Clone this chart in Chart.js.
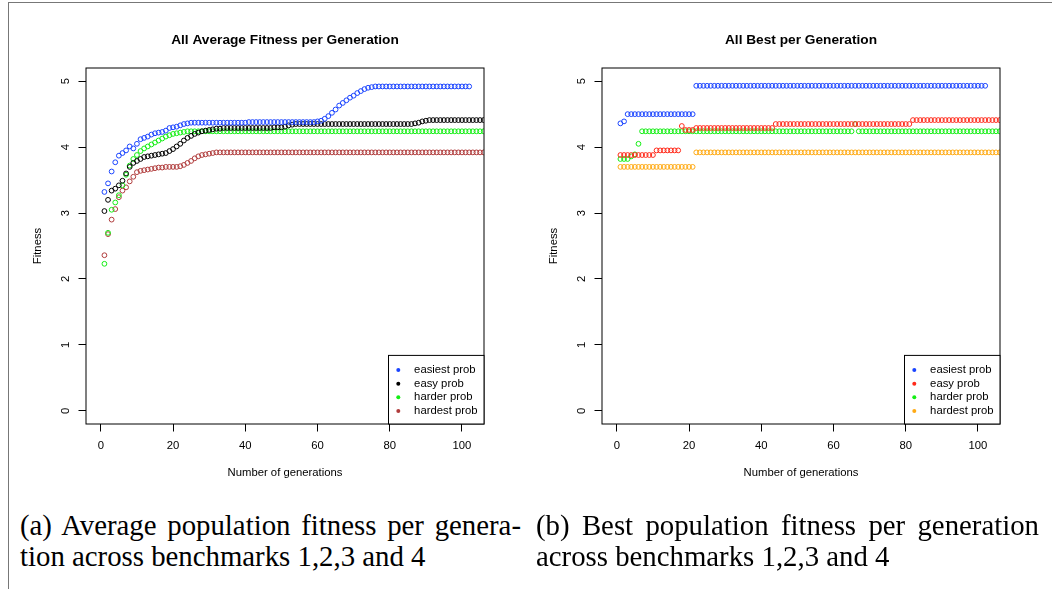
<!DOCTYPE html>
<html>
<head>
<meta charset="utf-8">
<script src="https://cdn.jsdelivr.net/npm/chart.js@4.4.1/dist/chart.umd.min.js"></script>
<style>
  body { margin: 0; width: 1052px; height: 589px; overflow: hidden; position: relative; background: #fff; }
  .box { position: absolute; top: 0; width: 570px; height: 500px; }
  .frame-top { position: absolute; left: 8px; top: 2px; width: 1044px; height: 1px; background: #777; }
  .frame-left { position: absolute; left: 8px; top: 2px; width: 1px; height: 587px; background: #777; }
  .cap { position: absolute; top: 510px; font: 28.8px/30.7px "Liberation Serif", "Times New Roman", serif; color: #000; }
  .cap .j { text-align: justify; text-align-last: justify; }
</style>
</head>
<body>
<div class="frame-top"></div>
<div class="frame-left"></div>
<div class="box" style="left:0px"><canvas id="chart_avg" width="570" height="500"></canvas></div>
<div class="box" style="left:516px"><canvas id="chart_best" width="570" height="500"></canvas></div>
<div class="cap" style="left:20px; width:501px">
  <div class="j">(a) Average population fitness per genera-</div>
  <div>tion across benchmarks 1,2,3 and 4</div>
</div>
<div class="cap" style="left:536px; width:503px">
  <div class="j">(b) Best population fitness per generation</div>
  <div>across benchmarks 1,2,3 and 4</div>
</div>
<script>
// Tick labels
const xTicks = [0, 20, 40, 60, 80, 100];
const yTicks = [0, 1, 2, 3, 4, 5];

// Average fitness per generation (generation 1, 2, 3, ...)
const avgEasiest = [
    3.32, 3.45, 3.63, 3.77, 3.87, 3.91, 3.95, 4.01, 3.98, 4.05,
    4.12, 4.14, 4.16, 4.19, 4.21, 4.22, 4.23, 4.25, 4.29, 4.30,
    4.31, 4.33, 4.35, 4.36, 4.37, 4.37, 4.37, 4.37, 4.37, 4.37,
    4.37, 4.37, 4.37, 4.37, 4.37, 4.37, 4.37, 4.37, 4.37, 4.37,
    4.38, 4.38, 4.38, 4.38, 4.38, 4.38, 4.38, 4.38, 4.38, 4.38,
    4.38, 4.38, 4.38, 4.38, 4.38, 4.38, 4.38, 4.38, 4.38, 4.39,
    4.40, 4.43, 4.47, 4.52, 4.57, 4.63, 4.67, 4.71, 4.75, 4.78,
    4.82, 4.85, 4.88, 4.90, 4.91, 4.92, 4.92, 4.92, 4.92, 4.92,
    4.92, 4.92, 4.92, 4.92, 4.92, 4.92, 4.92, 4.92, 4.92, 4.92,
    4.92, 4.92, 4.92, 4.92, 4.92, 4.92, 4.92, 4.92, 4.92, 4.92,
    4.92, 4.92
];
const avgEasy = [
    3.03, 3.20, 3.34, 3.37, 3.42, 3.49, 3.60, 3.70, 3.76, 3.79,
    3.82, 3.85, 3.86, 3.87, 3.88, 3.89, 3.90, 3.91, 3.94, 3.97,
    4.01, 4.05, 4.10, 4.14, 4.17, 4.20, 4.22, 4.24, 4.25, 4.26,
    4.27, 4.28, 4.28, 4.29, 4.29, 4.29, 4.29, 4.29, 4.29, 4.29,
    4.29, 4.29, 4.29, 4.29, 4.29, 4.29, 4.29, 4.30, 4.30, 4.30,
    4.31, 4.33, 4.34, 4.35, 4.35, 4.35, 4.35, 4.35, 4.35, 4.35,
    4.35, 4.35, 4.35, 4.35, 4.35, 4.35, 4.35, 4.35, 4.35, 4.35,
    4.35, 4.35, 4.35, 4.35, 4.35, 4.35, 4.35, 4.35, 4.35, 4.35,
    4.35, 4.35, 4.35, 4.35, 4.35, 4.35, 4.36, 4.37, 4.39, 4.40,
    4.41, 4.41, 4.41, 4.41, 4.41, 4.41, 4.41, 4.41, 4.41, 4.41,
    4.41, 4.41, 4.41, 4.41, 4.41, 4.41
];
const avgHarder = [
    2.23, 2.70, 3.05, 3.16, 3.27, 3.42, 3.58, 3.72, 3.82, 3.88,
    3.94, 3.98, 4.01, 4.04, 4.07, 4.10, 4.13, 4.16, 4.18, 4.20,
    4.21, 4.22, 4.23, 4.24, 4.24, 4.24, 4.24, 4.24, 4.24, 4.24,
    4.24, 4.24, 4.24, 4.24, 4.24, 4.24, 4.24, 4.24, 4.24, 4.24,
    4.24, 4.24, 4.24, 4.24, 4.24, 4.24, 4.24, 4.24, 4.24, 4.24,
    4.24, 4.24, 4.24, 4.24, 4.24, 4.24, 4.24, 4.24, 4.24, 4.24,
    4.24, 4.24, 4.24, 4.24, 4.24, 4.24, 4.24, 4.24, 4.24, 4.24,
    4.24, 4.24, 4.24, 4.24, 4.24, 4.24, 4.24, 4.24, 4.24, 4.24,
    4.24, 4.24, 4.24, 4.24, 4.24, 4.24, 4.24, 4.24, 4.24, 4.24,
    4.24, 4.24, 4.24, 4.24, 4.24, 4.24, 4.24, 4.24, 4.24, 4.24,
    4.24, 4.24, 4.24, 4.24, 4.24, 4.24
];
const avgHardest = [
    2.36, 2.68, 2.90, 3.06, 3.24, 3.34, 3.39, 3.48, 3.55, 3.62,
    3.64, 3.65, 3.66, 3.67, 3.68, 3.69, 3.69, 3.70, 3.70, 3.70,
    3.70, 3.71, 3.73, 3.76, 3.79, 3.83, 3.86, 3.88, 3.89, 3.90,
    3.91, 3.92, 3.92, 3.92, 3.92, 3.92, 3.92, 3.92, 3.92, 3.92,
    3.92, 3.92, 3.92, 3.92, 3.92, 3.92, 3.92, 3.92, 3.92, 3.92,
    3.92, 3.92, 3.92, 3.92, 3.92, 3.92, 3.92, 3.92, 3.92, 3.92,
    3.92, 3.92, 3.92, 3.92, 3.92, 3.92, 3.92, 3.92, 3.92, 3.92,
    3.92, 3.92, 3.92, 3.92, 3.92, 3.92, 3.92, 3.92, 3.92, 3.92,
    3.92, 3.92, 3.92, 3.92, 3.92, 3.92, 3.92, 3.92, 3.92, 3.92,
    3.92, 3.92, 3.92, 3.92, 3.92, 3.92, 3.92, 3.92, 3.92, 3.92,
    3.92, 3.92, 3.92, 3.92, 3.92, 3.92
];

// Best fitness per generation
const bestEasiest = [
    4.36, 4.39, 4.50, 4.50, 4.50, 4.50, 4.50, 4.50, 4.50, 4.50,
    4.50, 4.50, 4.50, 4.50, 4.50, 4.50, 4.50, 4.50, 4.50, 4.50,
    4.50, 4.93, 4.93, 4.93, 4.93, 4.93, 4.93, 4.93, 4.93, 4.93,
    4.93, 4.93, 4.93, 4.93, 4.93, 4.93, 4.93, 4.93, 4.93, 4.93,
    4.93, 4.93, 4.93, 4.93, 4.93, 4.93, 4.93, 4.93, 4.93, 4.93,
    4.93, 4.93, 4.93, 4.93, 4.93, 4.93, 4.93, 4.93, 4.93, 4.93,
    4.93, 4.93, 4.93, 4.93, 4.93, 4.93, 4.93, 4.93, 4.93, 4.93,
    4.93, 4.93, 4.93, 4.93, 4.93, 4.93, 4.93, 4.93, 4.93, 4.93,
    4.93, 4.93, 4.93, 4.93, 4.93, 4.93, 4.93, 4.93, 4.93, 4.93,
    4.93, 4.93, 4.93, 4.93, 4.93, 4.93, 4.93, 4.93, 4.93, 4.93,
    4.93, 4.93
];
const bestEasy = [
    3.88, 3.88, 3.88, 3.88, 3.88, 3.88, 3.88, 3.88, 3.88, 3.88,
    3.95, 3.95, 3.95, 3.95, 3.95, 3.95, 3.95, 4.32, 4.26, 4.26,
    4.26, 4.29, 4.29, 4.29, 4.29, 4.29, 4.29, 4.29, 4.29, 4.29,
    4.29, 4.29, 4.29, 4.29, 4.29, 4.29, 4.29, 4.29, 4.29, 4.29,
    4.29, 4.29, 4.29, 4.35, 4.35, 4.35, 4.35, 4.35, 4.35, 4.35,
    4.35, 4.35, 4.35, 4.35, 4.35, 4.35, 4.35, 4.35, 4.35, 4.35,
    4.35, 4.35, 4.35, 4.35, 4.35, 4.35, 4.35, 4.35, 4.35, 4.35,
    4.35, 4.35, 4.35, 4.35, 4.35, 4.35, 4.35, 4.35, 4.35, 4.35,
    4.35, 4.41, 4.41, 4.41, 4.41, 4.41, 4.41, 4.41, 4.41, 4.41,
    4.41, 4.41, 4.41, 4.41, 4.41, 4.41, 4.41, 4.41, 4.41, 4.41,
    4.41, 4.41, 4.41, 4.41, 4.41, 4.41
];
const bestHarder = [
    3.82, 3.82, 3.82, 3.86, 3.89, 4.05, 4.24, 4.24, 4.24, 4.24,
    4.24, 4.24, 4.24, 4.24, 4.24, 4.24, 4.24, 4.24, 4.24, 4.24,
    4.24, 4.24, 4.24, 4.24, 4.24, 4.24, 4.24, 4.24, 4.24, 4.24,
    4.24, 4.24, 4.24, 4.24, 4.24, 4.24, 4.24, 4.24, 4.24, 4.24,
    4.24, 4.24, 4.24, 4.24, 4.24, 4.24, 4.24, 4.24, 4.24, 4.24,
    4.24, 4.24, 4.24, 4.24, 4.24, 4.24, 4.24, 4.24, 4.24, 4.24,
    4.24, 4.24, 4.24, 4.24, 4.24, 4.35, 4.24, 4.24, 4.24, 4.24,
    4.24, 4.24, 4.24, 4.24, 4.24, 4.24, 4.24, 4.24, 4.24, 4.24,
    4.24, 4.24, 4.24, 4.24, 4.24, 4.24, 4.24, 4.24, 4.24, 4.24,
    4.24, 4.24, 4.24, 4.24, 4.24, 4.24, 4.24, 4.24, 4.24, 4.24,
    4.24, 4.24, 4.24, 4.24, 4.24, 4.24
];
const bestHardest = [
    3.70, 3.70, 3.70, 3.70, 3.70, 3.70, 3.70, 3.70, 3.70, 3.70,
    3.70, 3.70, 3.70, 3.70, 3.70, 3.70, 3.70, 3.70, 3.70, 3.70,
    3.70, 3.92, 3.92, 3.92, 3.92, 3.92, 3.92, 3.92, 3.92, 3.92,
    3.92, 3.92, 3.92, 3.92, 3.92, 3.92, 3.92, 3.92, 3.92, 3.92,
    3.92, 3.92, 3.92, 3.92, 3.92, 3.92, 3.92, 3.92, 3.92, 3.92,
    3.92, 3.92, 3.92, 3.92, 3.92, 3.92, 3.92, 3.92, 3.92, 3.92,
    3.92, 3.92, 3.92, 3.92, 3.92, 3.92, 3.92, 3.92, 3.92, 3.92,
    3.92, 3.92, 3.92, 3.92, 3.92, 3.92, 3.92, 3.92, 3.92, 3.92,
    3.92, 3.92, 3.92, 3.92, 3.92, 3.92, 3.92, 3.92, 3.92, 3.92,
    3.92, 3.92, 3.92, 3.92, 3.92, 3.92, 3.92, 3.92, 3.92, 3.92,
    3.92, 3.92, 3.92, 3.92, 3.92, 3.92
];

const FONT = '"Liberation Sans", Arial, Helvetica, sans-serif';
Chart.defaults.font.family = FONT;
Chart.defaults.color = '#000';

// value i belongs to generation i + 1
function toPoints(values) {
    return values.map((v, i) => ({ x: i + 1, y: v }));
}

function makeDataset(label, color, values) {
    return {
        label: label,
        data: toPoints(values),
        borderColor: color,
        backgroundColor: 'rgba(0,0,0,0)',
        pointRadius: 2.4,
        pointBorderWidth: 1,
        showLine: false,
        clip: 0,
    };
}

// plot frame like R's box()
const boxPlugin = {
    id: 'rBox',
    afterDatasetsDraw(chart) {
        const a = chart.chartArea;
        const ctx = chart.ctx;
        ctx.save();
        ctx.strokeStyle = '#000';
        ctx.lineWidth = 1;
        ctx.strokeRect(a.left, a.top, a.right - a.left, a.bottom - a.top);
        ctx.restore();
    }
};

// legend box in the bottom right corner of the plot
const legendPlugin = {
    id: 'rLegend',
    afterDraw(chart) {
        const a = chart.chartArea;
        const ctx = chart.ctx;
        const w = 95.5, h = 68.6;
        const x0 = a.right - w, y0 = a.bottom - h;
        ctx.save();
        ctx.fillStyle = '#fff';
        ctx.fillRect(x0, y0, w, h);
        ctx.strokeStyle = '#000';
        ctx.lineWidth = 1;
        ctx.strokeRect(x0, y0, w, h);
        ctx.font = '11.3px ' + FONT;
        ctx.textBaseline = 'middle';
        ctx.textAlign = 'left';
        chart.data.datasets.forEach((ds, i) => {
            const y = y0 + 14.6 + i * 13.67;
            ctx.fillStyle = ds.borderColor;
            ctx.beginPath();
            ctx.arc(x0 + 9.8, y, 2, 0, 2 * Math.PI);
            ctx.fill();
            ctx.fillStyle = '#000';
            ctx.fillText(ds.label, x0 + 25.6, y);
        });
        ctx.restore();
    }
};

function makeChart(canvasId, titleText, datasets) {
    return new Chart(document.getElementById(canvasId), {
        type: 'scatter',
        data: { datasets: datasets },
        options: {
            responsive: false,
            animation: false,
            events: [],
            layout: { padding: 0 },
            scales: {
                x: {
                    type: 'linear',
                    position: 'bottom',
                    min: -4.1,
                    max: 106.1,
                    afterBuildTicks: (scale) => { scale.ticks = xTicks.map(v => ({ value: v })); },
                    afterFit: (scale) => { scale.height = 76; },
                    ticks: { padding: 7.8, maxRotation: 0, autoSkip: false, font: { size: 11.3 }, color: '#000' },
                    grid: { drawOnChartArea: false, tickLength: 7.5, color: '#000' },
                    border: { display: false },
                    title: {
                        display: true,
                        text: 'Number of generations',
                        font: { size: 11.3 },
                        color: '#000',
                        padding: { top: 0, bottom: 20.4 },
                    },
                },
                y: {
                    type: 'linear',
                    position: 'left',
                    min: -0.2,
                    max: 5.2,
                    afterBuildTicks: (scale) => { scale.ticks = yTicks.map(v => ({ value: v })); },
                    afterFit: (scale) => { scale.width = 86; },
                    ticks: {
                        padding: 9.6,
                        minRotation: 90,
                        maxRotation: 90,
                        crossAlign: 'center',
                        autoSkip: false,
                        font: { size: 11.3 },
                        color: '#000',
                    },
                    grid: { drawOnChartArea: false, tickLength: 7.5, color: '#000' },
                    border: { display: false },
                    title: {
                        display: true,
                        text: 'Fitness',
                        font: { size: 11.3 },
                        color: '#000',
                        padding: { top: 31.3, bottom: 0 },
                    },
                },
                // empty right margin, same width as the y axis, keeps the title centred on the plot
                yRight: {
                    type: 'linear',
                    position: 'right',
                    min: -0.2,
                    max: 5.2,
                    afterFit: (scale) => { scale.width = 86; },
                    ticks: { display: false },
                    grid: { display: false },
                    border: { display: false },
                },
            },
            plugins: {
                title: {
                    display: true,
                    text: titleText,
                    font: { size: 13.7, weight: 'bold' },
                    color: '#000',
                    padding: { top: 32, bottom: 19.56 },
                },
                legend: { display: false },
                tooltip: { enabled: false },
            },
        },
        plugins: [boxPlugin, legendPlugin],
    });
}

let chartAvg = makeChart('chart_avg', 'All Average Fitness per Generation', [
    makeDataset('easiest prob', '#1a44ff', avgEasiest),
    makeDataset('easy prob', '#000000', avgEasy),
    makeDataset('harder prob', '#14ee14', avgHarder),
    makeDataset('hardest prob', '#b03c3c', avgHardest),
]);

let chartBest = makeChart('chart_best', 'All Best per Generation', [
    makeDataset('easiest prob', '#1a44ff', bestEasiest),
    makeDataset('easy prob', '#ff2a1a', bestEasy),
    makeDataset('harder prob', '#14ee14', bestHarder),
    makeDataset('hardest prob', '#ffaa14', bestHardest),
]);
</script>
</body>
</html>
